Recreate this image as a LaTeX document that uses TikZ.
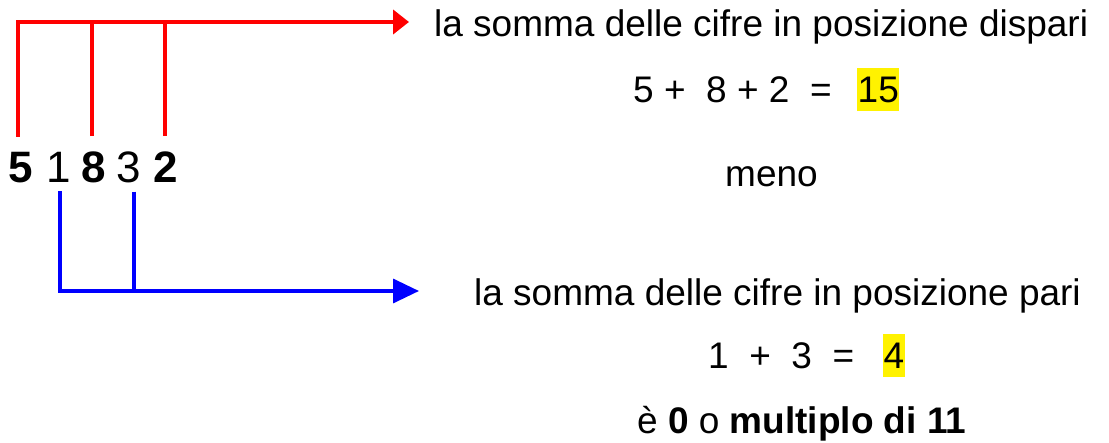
\documentclass[tikz,border=0pt]{standalone}
\usepackage{fontspec}
\setmainfont{Liberation Sans}
\usetikzlibrary{arrows.meta,calc}
\begin{document}
\begin{tikzpicture}[x=1pt,y=-1pt,
  txt/.style={inner sep=0pt, anchor=base west, font=\fontsize{37}{44}\selectfont},
  hl/.style={txt, fill=yellow, inner xsep=0.5pt, inner ysep=0pt, text height=35pt, text depth=8pt},
  dig/.style={inner sep=0pt, anchor=base, font=\fontsize{44}{50}\selectfont},
  redl/.style={draw=red, line width=4pt},
  bluel/.style={draw=blue, line width=3.5pt}]
\useasboundingbox (0,0) rectangle (1109,443);

% number
\node[dig] (d5) at (21,183) {\bfseries 5};
\node[dig] (d1) at (58.5,183) {1};
\node[dig] (d8) at (94,183) {\bfseries 8};
\node[dig] (d3) at (129,183) {3};
\node[dig] (d2) at (166,183) {\bfseries 2};

% texts
\node[txt] (t1) at (434,37) {la somma delle cifre in posizione dispari};
\node[txt] (e1) at (633,103) {5~+~~8~+~2~~=~~};
\node[hl] (s1) at (857,103) {15};
\node[txt] (meno) at (725,187) {meno};
\node[txt] (t2) at (474,306) {la somma delle cifre in posizione pari};
\node[txt] (e2) at (708,369) {1~~+~~3~~=~~};
\node[hl] (s2) at (883,369) {4};
\node[txt] (t3) at (637,434) {è \textbf{0} o \textbf{multiplo di 11}};

% red connectors (odd positions)
\coordinate (redtip) at (409,22);
\draw[redl,-{Triangle[length=16pt,width=24pt]}] ($(d5.north)+(-3,-16)$) |- (redtip);
\draw[redl] ($(d8.north)+(-2,-16)$) coordinate (r8) -- (r8 |- redtip);
\draw[redl] ($(d2.north)+(-1,-16)$) coordinate (r2) -- (r2 |- redtip);

% blue connectors (even positions)
\coordinate (bluetip) at (419,291);
\draw[bluel,-{Triangle[length=26pt,width=24pt]}] ($(d1.south)+(1.5,8)$) |- (bluetip);
\draw[bluel] ($(d3.south)+(5,8)$) coordinate (b3) -- (b3 |- bluetip);
\end{tikzpicture}
\end{document}
